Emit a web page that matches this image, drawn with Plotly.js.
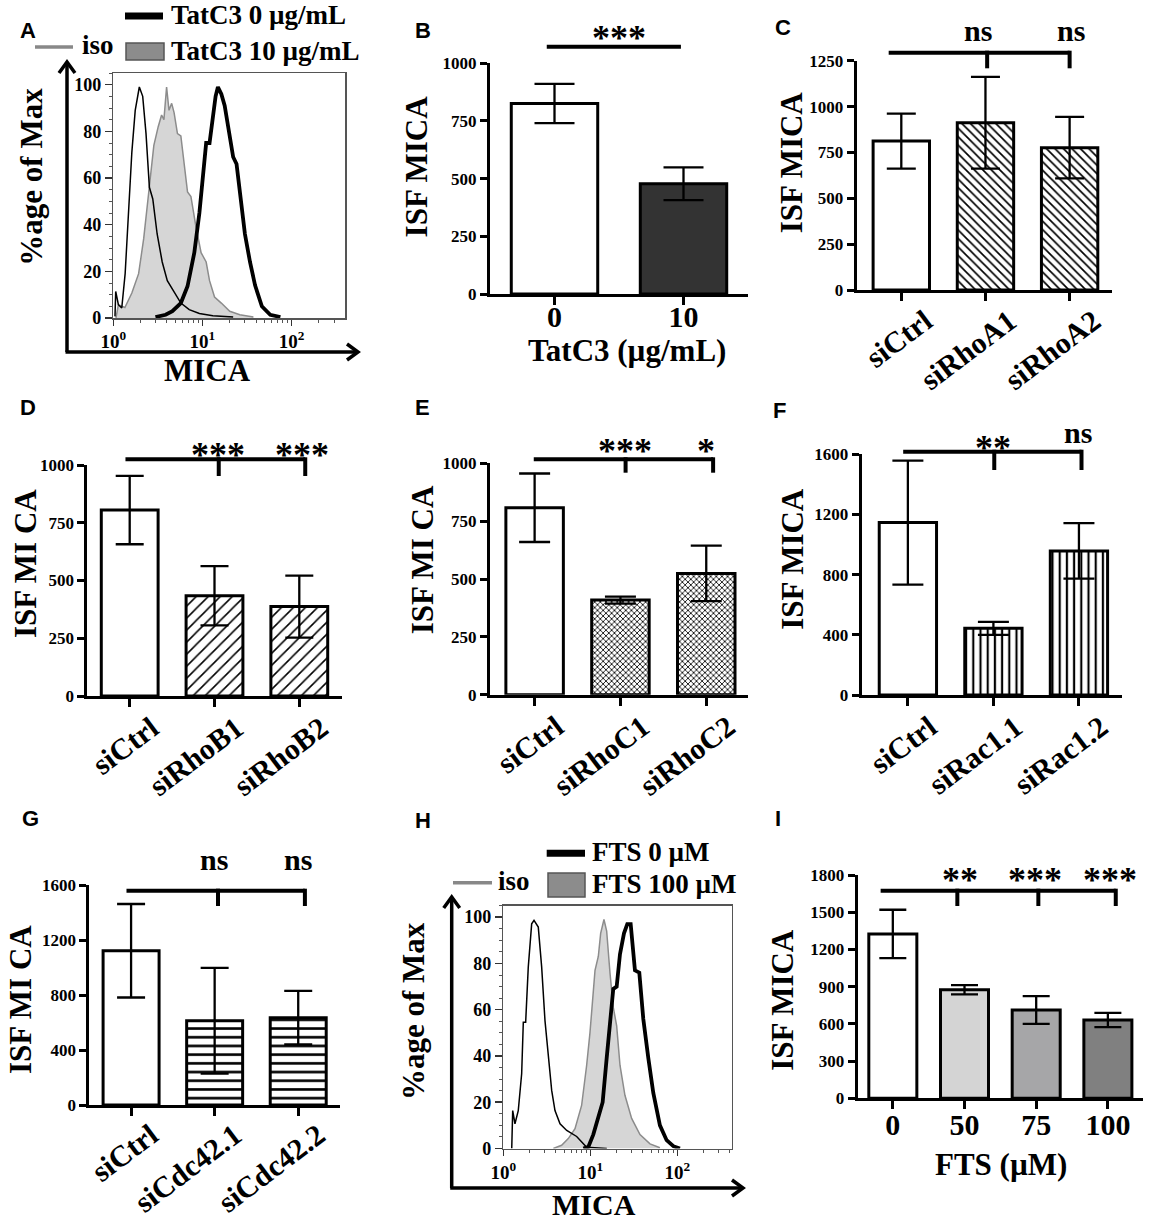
<!DOCTYPE html>
<html><head><meta charset="utf-8">
<script src="https://cdn.plot.ly/plotly-3.0.1.min.js"></script>
<style>html,body{margin:0;padding:0;background:#fff}</style>
</head><body><div id="chart" style="width:1149px;height:1223px"></div>
<script>
// ================= DATA =================
// Panel A flow histograms: x = log10(MICA), y = % of max
const aIsoLog  = [0.019,0.027,0.057,0.095,0.133,0.17,0.208,0.246,0.292,0.33,0.367,0.405,0.443,0.492,0.549,0.606,0.682,0.758,0.852,0.966,1.117,1.345];
const aIsoPct  = [0.7,11.4,5.7,4.3,19,45,71,89,99,95,79,56,51,36,24,16,11,6.4,3.6,1.9,1,0.4];
const aT10Log  = [0.03,0.057,0.13,0.208,0.284,0.341,0.398,0.455,0.504,0.542,0.568,0.598,0.625,0.655,0.682,0.72,0.758,0.795,0.833,0.871,0.928,0.985,1.042,1.08,1.136,1.212,1.307,1.42,1.572];
const aT10Pct  = [0,5.7,4.5,10.7,19,34,54,74,82,87,85,99,89,92,88,79,78,66,54,52,39,28,24,16,9,6.4,2.9,1.4,0.4];
const aT0Log   = [0.473,0.587,0.663,0.758,0.833,0.909,0.966,1.011,1.042,1.08,1.11,1.148,1.174,1.212,1.25,1.307,1.345,1.383,1.428,1.477,1.534,1.591,1.667,1.761,1.875];
const aT0Pct   = [0.4,1.4,2.9,6.4,13.6,28,45,62,75,75,85,95,99,96,91,79,69,66,51,36,24,14,5,1.4,0.4];
// Panel H flow histograms
const hIsoLog  = [0.097,0.108,0.134,0.172,0.211,0.23,0.257,0.287,0.326,0.353,0.402,0.441,0.479,0.518,0.556,0.594,0.652,0.729,0.805,0.843,0.958,1.19];
const hIsoPct  = [0,16.4,10.7,16.4,32.3,54.6,54.6,78.4,97.1,98.6,95.7,78.4,55.3,40.9,25.1,16.4,10.7,7.8,6.3,5.2,0.5,0];
const hF100Log = [0.575,0.67,0.747,0.824,0.9,0.958,0.996,1.034,1.054,1.092,1.119,1.157,1.188,1.226,1.264,1.303,1.341,1.398,1.475,1.571,1.686,1.8];
const hF100Pct = [0,1.4,4.3,8.6,18.6,36,50,67,77,83,93,99,94,76,61,53,36,23,13,6,2,0.3];
const hF0Log   = [0.92,0.977,1.034,1.092,1.142,1.188,1.234,1.264,1.303,1.341,1.387,1.425,1.464,1.513,1.563,1.609,1.667,1.724,1.8,1.877,1.954,2.03];
const hF0Pct   = [0,0.7,6,13,20,39,57,69,70,84,93,97,97,77,76,56,39,24,10,3.6,1,0];
const logTickVals = [0,1,2];
const logTickText = ['10<sup>0</sup>','10<sup>1</sup>','10<sup>2</sup>'];

// Bar panels: categories, means, error (SEM)
const bCats = ['0','10'];                        const bVals = [826,478];           const bErr = [85,71];
const cCats = ['siCtrl','siRhoA1','siRhoA2'];    const cVals = [812,912,776];       const cErr = [150,250,168];
const dCats = ['siCtrl','siRhoB1','siRhoB2'];    const dVals = [805,434,387];       const dErr = [148,128,134];
const eCats = ['siCtrl','siRhoC1','siRhoC2'];    const eVals = [808,409,524];       const eErr = [148,15,120];
const fCats = ['siCtrl','siRac1.1','siRac1.2'];  const fVals = [1146,443,958];      const fErr = [412,43,185];
const gCats = ['siCtrl','siCdc42.1','siCdc42.2'];const gVals = [1122,613,635];      const gErr = [340,385,195];
const iCats = ['0','50','75','100'];             const iVals = [1325,875,712,631];  const iErr = [195,38,112,57];

// significance labels
const bSig = ['***'];
const cSig = ['ns','ns'];
const dSig = ['***','***'];
const eSig = ['***','*'];
const fSig = ['**','ns'];
const gSig = ['ns','ns'];
const iSig = ['**','***','***'];

// ================= LAYOUT / STYLE =================
const W = 1149, H = 1223;
const fx = p => p / W;
const fy = p => 1 - p / H;
const SERIF = '"Liberation Serif", "Times New Roman", serif';
const SANS = '"Liberation Sans", Arial, sans-serif';

const traces = [];
const layout = {
  width: W, height: H, margin: {l:0, r:0, t:0, b:0},
  paper_bgcolor: '#fff', plot_bgcolor: 'rgba(0,0,0,0)',
  showlegend: false, font: {family: SERIF, color: '#000'},
  shapes: [], annotations: []
};

function txt(text, x, y, size, o) {
  o = o || {};
  layout.annotations.push({
    text: text, x: fx(x), y: fy(y), xref: 'paper', yref: 'paper', showarrow: false,
    xanchor: o.xanchor || 'center', yanchor: 'middle', textangle: o.angle || 0,
    font: {family: o.family || SERIF, size: size, color: '#000', weight: o.weight || 'bold'}
  });
}
function line(x0, y0, x1, y1, w, c) {
  layout.shapes.push({type: 'line', xref: 'paper', yref: 'paper', x0: fx(x0), y0: fy(y0), x1: fx(x1), y1: fy(y1),
    line: {color: c || '#000', width: w}});
}
function rect(x0, y0, x1, y1, fill, lc) {
  layout.shapes.push({type: 'rect', xref: 'paper', yref: 'paper', x0: fx(x0), y0: fy(y0), x1: fx(x1), y1: fy(y1),
    fillcolor: fill, line: {color: lc, width: 1.5}});
}
function poly(pts, w) {
  const d = pts.map((q, i) => (i ? 'L' : 'M') + fx(q[0]) + ',' + fy(q[1])).join(' ');
  layout.shapes.push({type: 'path', xref: 'paper', yref: 'paper', path: d, line: {color: '#000', width: w}});
}
function arrowUp(cx, cy, hy) { line(cx, cy, cx, hy + 1, 3.5); poly([[cx - 8, hy + 11], [cx, hy], [cx + 8, hy + 11]], 3.5); }
function arrowRight(cx, cy, hx) { line(cx - 1.5, cy, hx - 1, cy, 3.5); poly([[hx - 11, cy - 8], [hx, cy], [hx - 11, cy + 8]], 3.5); }

// panel geometry (pixels)
const P = {
  A: {n: 1, x0: 113.3, x1: 345, yt: 73, yb: 318, r: [0, 2.6]},
  B: {n: 2, x0: 490, x1: 748, yt: 63.3, yb: 294, r: [-0.5, 1.5], top: 1000, dtick: 250, ang: 0, cap: 20, so: -14, sh: 0},
  C: {n: 3, x0: 856.7, x1: 1111.7, yt: 60.7, yb: 290, r: [-0.53, 2.5], top: 1250, dtick: 250, ang: -37, cap: 14.5, so: -9, sh: 24},
  D: {n: 4, x0: 87.3, x1: 341.7, yt: 465, yb: 696, r: [-0.5, 2.5], top: 1000, dtick: 250, ang: -37, cap: 14, so: -8, sh: 22},
  E: {n: 5, x0: 490, x1: 748.3, yt: 463.3, yb: 694.7, r: [-0.52, 2.49], top: 1000, dtick: 250, ang: -37, cap: 15.5, so: -8, sh: 22},
  F: {n: 6, x0: 861.7, x1: 1121.7, yt: 454.3, yb: 695, r: [-0.54, 2.5], top: 1600, dtick: 400, ang: -37, cap: 15.5, so: -8, sh: 22},
  G: {n: 7, x0: 89.3, x1: 340, yt: 885, yb: 1105, r: [-0.5, 2.5], top: 1600, dtick: 400, ang: -37, cap: 14, so: -10, sh: 20},
  H: {n: 8, x0: 503.3, x1: 731.7, yt: 905.6, yb: 1148.5, r: [0, 2.625]},
  I: {n: 9, x0: 857.7, x1: 1143, yt: 875, yb: 1098.3, r: [-0.49, 3.49], top: 1800, dtick: 300, ang: 0, cap: 13.5, so: -10, sh: 0}
};
const sfx = n => (n === 1 ? '' : String(n));
const catPx = (p, c) => p.x0 + (c - p.r[0]) / (p.r[1] - p.r[0]) * (p.x1 - p.x0);

// ---------- bar panels ----------
function barPanel(p, cats, vals, errs, marker) {
  const s = sfx(p.n);
  traces.push({
    type: 'bar', x: cats, y: vals, xaxis: 'x' + s, yaxis: 'y' + s, width: 0.67,
    marker: marker, hoverinfo: 'skip',
    error_y: {type: 'data', array: errs, visible: true, color: '#000', thickness: 2.3, width: p.cap}
  });
  layout['xaxis' + s] = {
    domain: [fx(p.x0), fx(p.x1)], range: p.r, anchor: 'y' + s, type: 'category',
    showline: true, linecolor: '#000', linewidth: 3, ticks: 'outside', ticklen: 8, tickwidth: 3, tickcolor: '#000',
    tickangle: p.ang, ticklabelstandoff: p.so, ticklabelshift: p.sh,
    tickfont: {family: SERIF, size: 30, weight: 'bold', color: '#000'},
    showgrid: false, zeroline: false, fixedrange: true
  };
  layout['yaxis' + s] = {
    domain: [fy(p.yb), fy(p.yt)], range: [0, p.top], anchor: 'x' + s, tick0: 0, dtick: p.dtick,
    showline: true, linecolor: '#000', linewidth: 3, ticks: 'outside', ticklen: 7, tickwidth: 3, tickcolor: '#000',
    tickfont: {family: SERIF, size: 17, weight: 'bold', color: '#000'},
    showgrid: false, zeroline: false, fixedrange: true
  };
}
const plainMarker = cols => ({color: cols, line: {color: '#000', width: 3}});
const patMarker = (shape, size, sol) => ({color: '#fff', line: {color: '#000', width: 3},
  pattern: {shape: ['', shape, shape], fgcolor: '#000', bgcolor: '#fff', size: size, solidity: sol}});

barPanel(P.B, bCats, bVals, bErr, plainMarker(['#ffffff', '#333333']));
barPanel(P.C, cCats, cVals, cErr, patMarker('\\', 6, 0.28));
barPanel(P.D, dCats, dVals, dErr, patMarker('/', 8.5, 0.18));
barPanel(P.E, eCats, eVals, eErr, patMarker('x', 4, 0.38));
barPanel(P.F, fCats, fVals, fErr, patMarker('|', 7.2, 0.3));
barPanel(P.G, gCats, gVals, gErr, patMarker('-', 8.7, 0.3));
barPanel(P.I, iCats, iVals, iErr, plainMarker(['#ffffff', '#d4d4d4', '#a6a6a8', '#808080']));

// ---------- significance brackets ----------
function bracket(p, start, end, yLine, drops, yDrop, labels, lx, ly) {
  line(catPx(p, start), yLine, catPx(p, end), yLine, 4);
  drops.forEach(c => line(catPx(p, c), yLine - 2, catPx(p, c), yDrop, 4));
  labels.forEach((t, i) => {
    const isStar = t.indexOf('*') >= 0;
    const yy = (Array.isArray(ly) ? ly[i] : ly) + (isStar ? 8 : -3);
    txt(t, catPx(p, lx[i]), yy, isStar ? 36 : 30);
  });
}
bracket(P.B, -0.06, 0.98, 46.7, [], 0, bSig, [0.5], 30);
bracket(P.C, -0.15, 2.0, 52.7, [1.02, 2.0], 68.3, cSig, [0.906, 2.02], 33.3);
bracket(P.D, -0.05, 2.07, 459.3, [1.05, 2.07], 476, dSig, [1.04, 2.03], 446.7);
bracket(P.E, -0.01, 2.08, 459.3, [1.06, 2.08], 472.7, eSig, [1.05, 2.0], 443.3);
bracket(P.F, -0.055, 2.03, 451.7, [1.01, 2.03], 470, fSig, [1.0, 1.99], [440, 435.5]);
bracket(P.G, -0.055, 2.08, 890.7, [1.04, 2.08], 906, gSig, [0.99, 2.0], 862.5);
bracket(P.I, -0.17, 3.11, 890.7, [0.9, 2.03, 3.11], 906, iSig, [0.94, 1.98, 3.03], 872);

// ---------- histogram panels ----------
const minorLog = [];
[1, 10, 100].forEach(d => { for (let k = 2; k <= 9; k++) { const v = Math.log10(k * d); if (v < 2.62) minorLog.push(v); } });

function histPanel(p, isoX, isoY, grayX, grayY, blkX, blkY) {
  const s = sfx(p.n);
  traces.push({x: grayX, y: grayY, xaxis: 'x' + s, yaxis: 'y' + s, mode: 'lines', fill: 'tozeroy',
    fillcolor: '#d6d6d6', line: {color: '#8c8c8c', width: 1.5}, hoverinfo: 'skip'});
  traces.push({x: isoX, y: isoY, xaxis: 'x' + s, yaxis: 'y' + s, mode: 'lines',
    line: {color: '#000', width: 1.5}, hoverinfo: 'skip'});
  traces.push({x: blkX, y: blkY, xaxis: 'x' + s, yaxis: 'y' + s, mode: 'lines',
    line: {color: '#000', width: 3.8}, hoverinfo: 'skip'});
  layout['xaxis' + s] = {
    domain: [fx(p.x0), fx(p.x1)], range: p.r, anchor: 'y' + s, tickmode: 'array',
    tickvals: logTickVals, ticktext: logTickText, ticks: 'outside', ticklen: 6, tickwidth: 1.5, tickcolor: '#333',
    showline: true, mirror: true, linecolor: '#555', linewidth: 1.5,
    tickfont: {family: SERIF, size: 19, weight: 'bold', color: '#000'},
    minor: {tickmode: 'array', tickvals: minorLog, ticks: 'outside', ticklen: 3, tickwidth: 1, tickcolor: '#555'},
    showgrid: false, zeroline: false, fixedrange: true
  };
  layout['yaxis' + s] = {
    domain: [fy(p.yb), fy(p.yt)], range: [0, 105], anchor: 'x' + s, tick0: 0, dtick: 20,
    ticks: 'outside', ticklen: 7, tickwidth: 1.5, tickcolor: '#333',
    showline: true, mirror: true, linecolor: '#555', linewidth: 1.5,
    tickfont: {family: SERIF, size: 18, weight: 'bold', color: '#000'},
    minor: {tick0: 0, dtick: 5, ticks: 'outside', ticklen: 3, tickwidth: 1, tickcolor: '#555'},
    showgrid: false, zeroline: false, fixedrange: true
  };
}
histPanel(P.A, aIsoLog, aIsoPct, aT10Log, aT10Pct, aT0Log, aT0Pct);
histPanel(P.H, hIsoLog, hIsoPct, hF100Log, hF100Pct, hF0Log, hF0Pct);

// arrows around flow plots
arrowUp(67, 352, 62);  arrowRight(67, 352, 358);
arrowUp(451.7, 1188, 897); arrowRight(451.7, 1188, 743);

// legends
line(35, 47, 73, 47, 3.5, '#888'); txt('iso', 80, 45, 27, {xanchor: 'left'});
line(125, 16, 163, 16, 7);          txt('TatC3 0 µg/mL', 169, 15, 27, {xanchor: 'left'});
rect(126, 43, 164, 60, '#8c8c8c', '#555'); txt('TatC3 10 µg/mL', 169, 51, 27, {xanchor: 'left'});
line(453, 882.7, 492, 882.7, 3.5, '#888'); txt('iso', 496, 881, 27, {xanchor: 'left'});
line(546.7, 853.3, 585, 853.3, 7);  txt('FTS 0 µM', 590, 852, 27, {xanchor: 'left'});
rect(548, 873, 585, 897, '#8c8c8c', '#555'); txt('FTS 100 µM', 590, 884, 27, {xanchor: 'left'});

// axis titles
txt('%age of Max', 31.7, 177, 31, {angle: -90});
txt('MICA', 207, 371, 31);
txt('ISF MICA', 416.7, 166.7, 31, {angle: -90});
txt('TatC3 (µg/mL)', 626.7, 350, 31);
txt('ISF MICA', 791.7, 162.5, 31, {angle: -90});
txt('ISF MI CA', 25, 564, 31, {angle: -90});
txt('ISF MI CA', 423.3, 560, 31, {angle: -90});
txt('ISF MICA', 791.7, 559, 31, {angle: -90});
txt('ISF MI CA', 20, 1000, 31, {angle: -90});
txt('%age of Max', 413, 1011, 31, {angle: -90});
txt('MICA', 594, 1204, 30);
txt('ISF MICA', 781.7, 1000, 31, {angle: -90});
txt('FTS (µM)', 1001, 1164, 31);

// panel letters
[['A', 28, 30], ['B', 423, 30], ['C', 783, 27], ['D', 28, 408], ['E', 422, 408], ['F', 780, 410],
 ['G', 30, 818], ['H', 423, 820], ['I', 778, 818]].forEach(l => txt(l[0], l[1], l[2], 22, {family: SANS}));

Plotly.newPlot('chart', traces, layout, {staticPlot: true, displayModeBar: false});
</script>
</body></html>
